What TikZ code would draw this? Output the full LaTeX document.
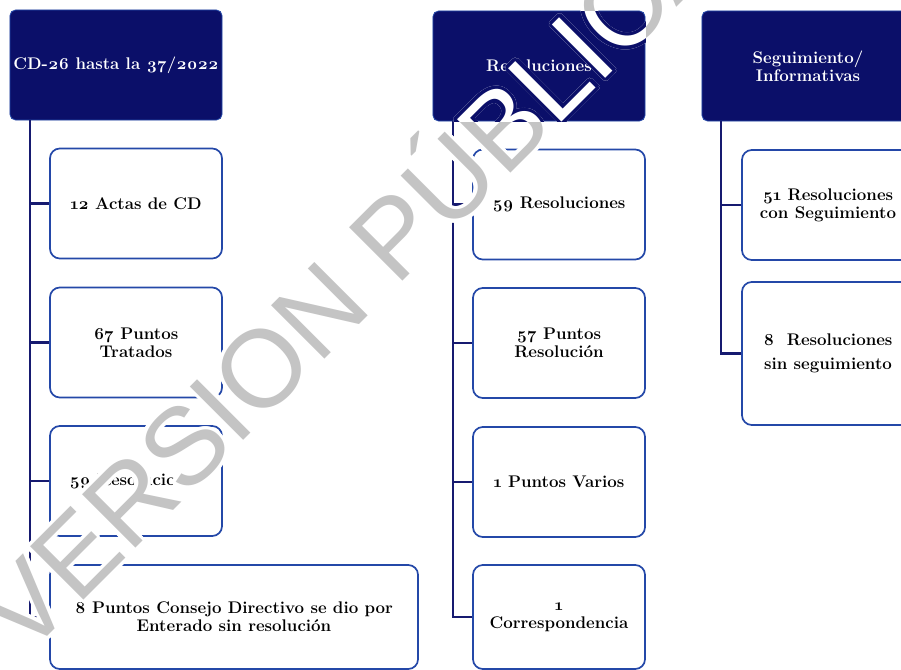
\documentclass[tikz,border=0pt]{standalone}
\usepackage{fontspec}
\setmainfont{Latin Modern Roman}[Numbers=OldStyle]
\newfontfamily\wmfont{Liberation Sans}
\usepackage{contour}
\contourlength{2.5pt}
\definecolor{hdrblue}{RGB}{11,15,105}
\definecolor{boxblue}{RGB}{36,72,168}
\definecolor{linkblue}{RGB}{22,26,112}
\definecolor{wmgray}{RGB}{196,196,196}
\tikzset{hdr/.style={fill=hdrblue, draw=boxblue, line width=0.6pt, rounded corners=4pt,
  text=white, font=\bfseries\fontsize{12}{12.5}\selectfont, align=center,
  minimum width=5.3cm, minimum height=2.75cm, inner sep=0pt}}
\tikzset{item/.style={draw=boxblue, line width=1.2pt, rounded corners=7pt, fill=white,
  font=\bfseries\fontsize{12}{13}\selectfont, align=center,
  minimum width=4.3cm, minimum height=2.75cm, inner sep=2pt}}
\tikzset{link/.style={draw=linkblue, line width=1.5pt}}
\tikzset{wm/.style={rotate=45, text=wmgray, font=\wmfont\fontsize{78}{78}\selectfont, inner sep=0pt}}
\begin{document}
\begin{tikzpicture}[x=0.025cm, y=-0.025cm]
      \useasboundingbox (0, 0) rectangle (901, 670);
      \clip (0, 0) rectangle (901, 670);

      \node [hdr] (h1) at (116, 65) {CD-26 hasta la 37/2022};
      \node [hdr] (h2) at (539, 66) {Resoluciones};
      \node [hdr] (h3) at (808, 66) {Seguimiento/\\Informativas};

      \node [item] (a1) at (136, 203.5) {12 Actas de CD};
      \node [item] (a2) at (136, 342.5) {67 Puntos\\Tratados};
      \node [item] (a3) at (136, 481) {59 Resoluciones};
      \node [item, minimum width=9.2cm, minimum height=2.6cm] (a4) at (234, 617) {8 Puntos Consejo Directivo se dio por\\Enterado sin resolución};

      \node [item] (b1) at (559, 204.5) {59 Resoluciones};
      \node [item] (b2) at (559, 343) {57 Puntos\\Resolución};
      \node [item] (b3) at (559, 482) {1 Puntos Varios};
      \node [item, minimum height=2.6cm] (b4) at (559, 617) {1\\Correspondencia};

      \node [item] (c1) at (828, 205) {51 Resoluciones\\con Seguimiento};
      \node [item, minimum height=3.575cm] (c2) at (828, 353.5) {8~ Resoluciones\\[4pt]sin seguimiento};

      \foreach \b in {a1, a2, a3, a4}
        \draw [link] ([xshift=0.5cm]h1.south west) |- (\b.west);
      \foreach \b in {b1, b2, b3, b4}
        \draw [link] ([xshift=0.5cm]h2.south west) |- (\b.west);
      \foreach \b in {c1, c2}
        \draw [link] ([xshift=0.475cm]h3.south west) |- (\b.west);

      % watermark
      \node [wm] (wm) at (345, 275) {\contour{white}{VERSION PÚBLICA}};
      \begin{scope}
        \clip [rounded corners=4pt] (h2.south west) rectangle (h2.north east);
        \node [wm, text=white] at (345, 275) {\contour{hdrblue}{VERSION PÚBLICA}};
      \end{scope}
    \end{tikzpicture}
\end{document}
